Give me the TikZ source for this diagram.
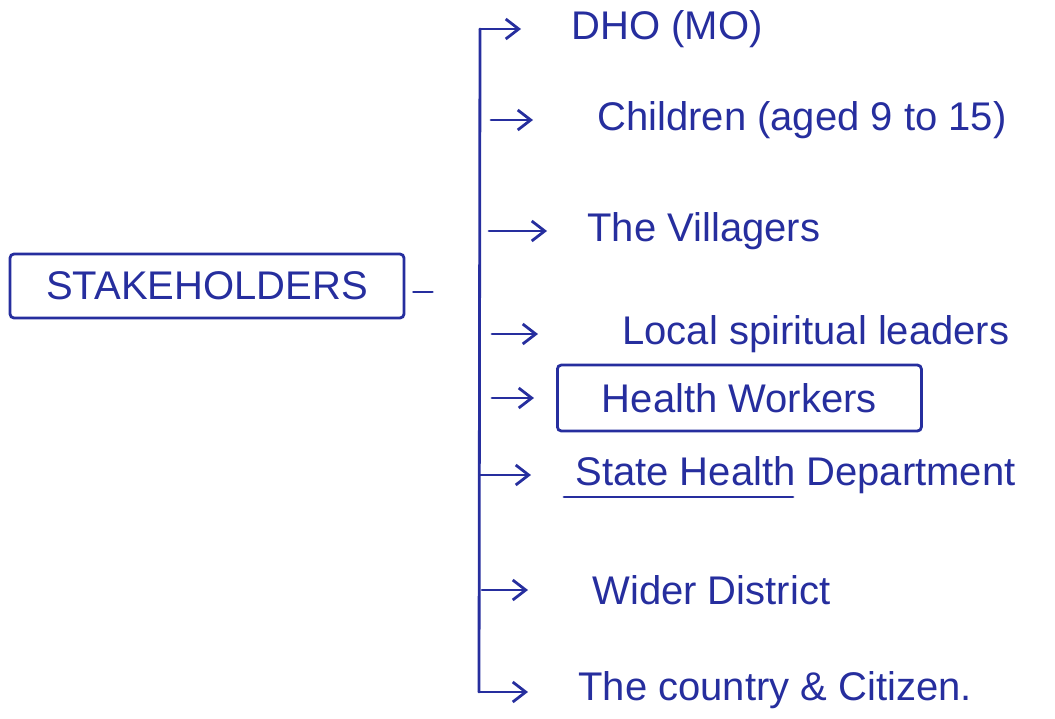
\documentclass[tikz,border=0pt]{standalone}
\usepackage{fontspec}
\setmainfont{Liberation Sans}
\usepackage{xcolor}
\usetikzlibrary{arrows.meta, positioning}
\definecolor{ink}{RGB}{38,46,158}

\begin{document}
\begin{tikzpicture}[x=0.5pt, y=-0.5pt,
    every node/.style={text=ink, font=\fontsize{20}{24}\selectfont},
    item/.style={anchor=west, inner sep=0pt},
    box/.style={draw=ink, line width=1.4pt, rounded corners=2pt, align=center, inner sep=0pt},
    line/.style={draw=ink, line width=1.4pt, line cap=round},
    arr/.style={line, -{Straight Barb[length=6.5pt, width=10pt]}}]
  \useasboundingbox (0,0) rectangle (1055,718);

  % the main box
  \node[box, minimum width=197pt, minimum height=32pt] (stake) at (207,286) {STAKEHOLDERS};

  % the list
  \node[item] (dho)      at (571,29)  {DHO (MO)};
  \node[item] (children) at (597,120) {Children (aged 9 to 15)};
  \node[item] (villager) at (587,231) {The Villagers};
  \node[item] (local)    at (622,334) {Local spiritual leaders};
  \node[box, anchor=west, minimum width=182pt, minimum height=33pt] (health) at (556,398) {Health Workers};
  \node[item] (state)    at (575,475) {State Health Department};
  \node[item] (wider)    at (592,590) {Wider District};
  \node[item] (country)  at (578,690) {The country \& Citizen.};

  % bracket
  \coordinate (top) at (480,29);
  \coordinate (bot) at (479,692);
  \draw[line] (top) -- (bot);
  \draw[line] ([xshift=4pt, yshift=-3pt]stake.east) -- ++(9.5pt,0);

  \draw[arr, shorten >=25pt] (top) -- (dho.west);
  \draw[arr, shorten <=5.5pt, shorten >=32pt] (children.west -| top) -- (children.west);
  \draw[arr, shorten <=4.5pt, shorten >=20pt] (villager.west -| top) -- (villager.west);
  \draw[arr, shorten <=6pt, shorten >=42pt] (local.west -| top) -- (local.west);
  \draw[arr, shorten <=6pt, shorten >=11pt] (health.west -| top) -- (health.west);
  \draw[arr, shorten >=22pt] (state.west -| top) -- (state.west);
  \draw[arr, shorten <=1pt, shorten >=32pt] (wider.west -| top) -- (wider.west);
  \draw[arr, shorten >=25pt] (bot) -- (bot -| country.west);

  % underline
  \draw[line] ([xshift=-5.5pt, yshift=-1.5pt]state.south west) -- ++(114.5pt,0);
\end{tikzpicture}
\end{document}
